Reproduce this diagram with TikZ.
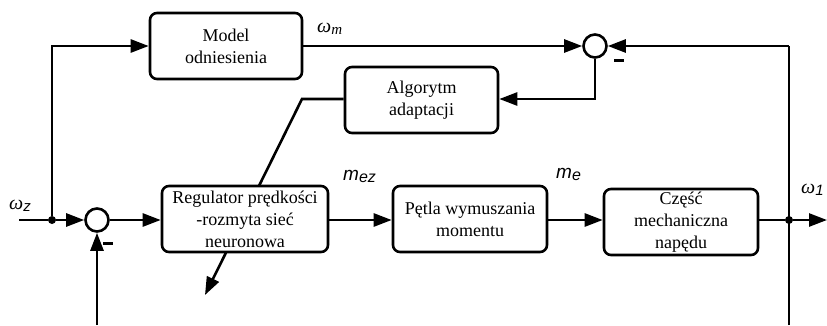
\documentclass[tikz,border=0pt]{standalone}
\usepackage{fontspec}
\setmainfont{Liberation Serif}
\newfontfamily\ars{Liberation Sans}
\usetikzlibrary{arrows.meta,backgrounds}
\begin{document}
\begin{tikzpicture}[x=1pt,y=-1pt,
  conn/.style={draw,line width=2.6pt},
  blk/.style={draw,line width=2.6pt,fill=white,rounded corners=7pt,align=center,font=\fontsize{18}{22}\selectfont,inner sep=0pt,minimum height=66pt},
  sumc/.style={draw,line width=2.6pt,fill=white,circle,minimum size=23pt,inner sep=0pt},
  dotj/.style={circle,fill,minimum size=8pt,inner sep=0pt},
  minus/.style={fill,rectangle,minimum width=10pt,minimum height=3pt,inner sep=0pt},
  lab/.style={inner sep=0pt,anchor=base west},
  arr/.style={conn,-{Triangle[length=18pt,width=13pt]}}
]
\useasboundingbox (0,0) rectangle (827,325);
% blocks
\node[blk,minimum width=152pt] (model) at (226,46) {Model\\odniesienia};
\node[blk,minimum width=153pt] (alg) at (421.5,100) {Algorytm\\adaptacji};
\node[blk,minimum width=166pt] (reg) at (245,219) {Regulator prędkości\\-rozmyta sieć\\neuronowa};
\node[blk,minimum width=154pt] (pet) at (470,219) {Pętla wymuszania\\momentu};
\node[blk,minimum width=154pt] (cz) at (681,222) {Część\\mechaniczna\\napędu};
% summing junctions
\node[sumc] (s1) at (595,46) {};
\node[sumc] (s2) at (97,220) {};
\node[minus] (mn1) at (619,60) {};
\node[minus] (mn2) at (108,243) {};
% junction dots
\node[dotj] (j1) at (52,220) {};
\node[dotj] (j2) at (789,220) {};
% coordinates
\coordinate (in) at (19,220);
\coordinate (out) at (827,220);
\coordinate (tl) at (52,46);
\coordinate (tr) at (789,46);
\coordinate (br) at (789,325);
\coordinate (fb) at (97,325);
\coordinate (ad1) at (595,99);
\coordinate (ad2) at (302,99);
\coordinate (ad3) at (205,295);
% connectors
\begin{pgfonlayer}{background}
\draw[arr] (alg.west |- ad2) -- (ad2) -- (ad3);
\end{pgfonlayer}
\draw[conn] (in) -- (j1);
\draw[arr] (j1) -- (s2);
\draw[arr] (j1) -- (tl) -- (model.west |- tl);
\draw[arr] (model.east |- s1) -- (s1);
\draw[conn] (br) -- (tr);
\draw[arr] (tr) -- (s1);
\draw[arr] (s1) -- (ad1) -- (alg.east |- ad1);
\draw[arr] (s2) -- (reg.west |- s2);
\draw[arr] (reg.east |- s2) -- (pet.west |- s2);
\draw[arr] (pet.east |- s2) -- (cz.west |- s2);
\draw[conn] (cz.east |- j2) -- (j2);
\draw[arr] (j2) -- (out);
\draw[arr] (fb) -- (s2);
% labels
\node[lab] (lwz) at (9,209) {\fontsize{20}{20}\selectfont\itshape ω\raisebox{-2pt}{\ars\fontsize{15}{15}\selectfont z}};
\node[lab] (lwm) at (317,32) {\fontsize{20}{20}\selectfont\itshape ω\raisebox{-2pt}{\fontsize{15}{15}\selectfont m}};
\node[lab] (lmez) at (343,180) {\ars\itshape\fontsize{19}{19}\selectfont m\raisebox{-2pt}{\fontsize{16}{16}\selectfont ez}};
\node[lab] (lme) at (556,178) {\ars\itshape\fontsize{19}{19}\selectfont m\raisebox{-2pt}{\fontsize{16}{16}\selectfont e}};
\node[lab] (lw1) at (801,193) {\fontsize{20}{20}\selectfont\itshape ω\raisebox{-2pt}{\ars\fontsize{15}{15}\selectfont 1}};
\end{tikzpicture}
\end{document}
